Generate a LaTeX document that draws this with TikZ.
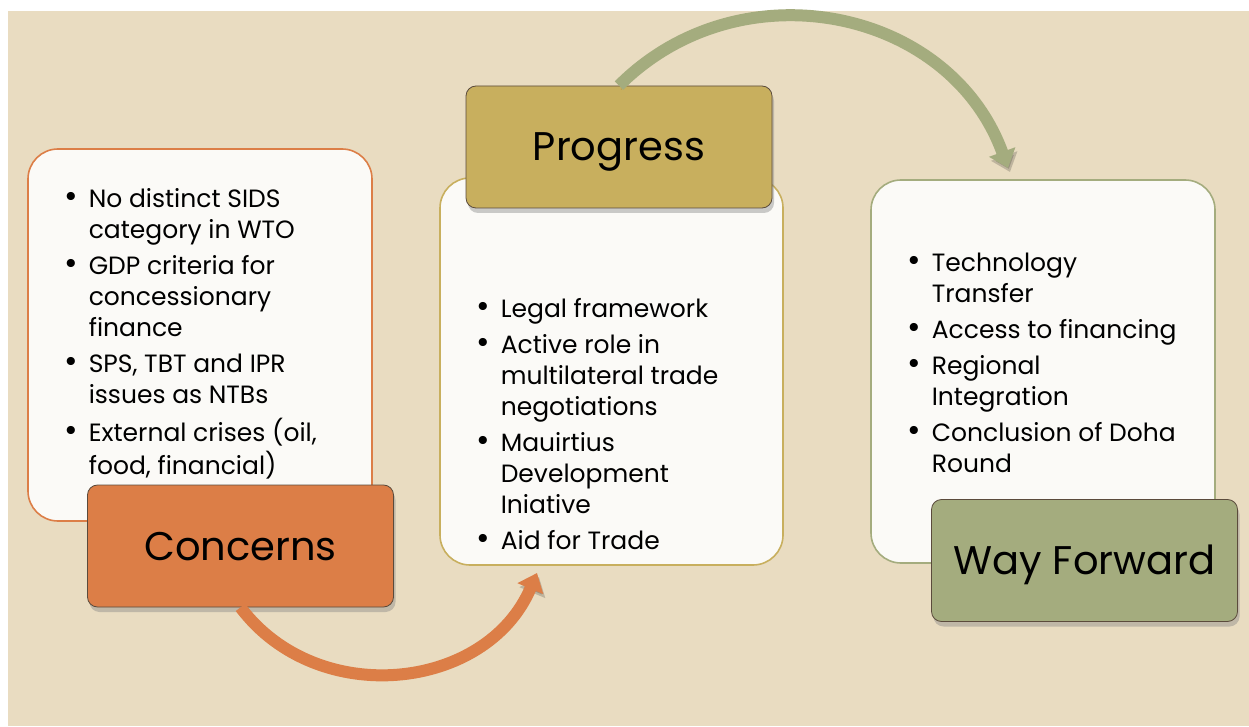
\documentclass[tikz,border=0pt]{standalone}
\usepackage{fontspec}
\setmainfont{Poppins}
\usepackage{xcolor}
\usetikzlibrary{arrows.meta,shadows}
\definecolor{sand}{HTML}{E9DCC1}
\definecolor{paper}{HTML}{FBFAF7}
\definecolor{corange}{HTML}{DC7E47}
\definecolor{cgold}{HTML}{C8AF5E}
\definecolor{colive}{HTML}{A4AC7E}
\definecolor{rim}{HTML}{5B4B3C}
\newcommand{\bul}{{\fontsize{33}{31}\selectfont\textbullet}}
\tikzset{
  panel/.style={draw=#1, line width=1.6pt, rounded corners=30pt, fill=paper, inner sep=0pt},
  tag/.style={draw=rim, line width=0.8pt, rounded corners=10pt, fill=#1, minimum width=306pt,
              minimum height=122pt, inner sep=0pt, text height=28pt, text depth=0pt,
              font=\fontsize{40}{44}\selectfont,
              drop shadow={shadow xshift=2pt, shadow yshift=-5pt, opacity=.4}},
  bullets/.style={anchor=base west, inner sep=0pt, font=\fontsize{25}{31}\selectfont},
  bend/.style={line width=12pt, draw=#1, -{Triangle[length=17pt, width=27pt]}, looseness=1.1,
               preaction={draw=black, opacity=.18, transform canvas={xshift=2pt, yshift=-4pt}}}
}

\begin{document}
\begin{tikzpicture}[x=1pt, y=1pt]
  \useasboundingbox (0,0) rectangle (1249,726);
  \fill[sand] (8,0) rectangle (1249,715);

  % text panels
  \node[panel=corange, minimum width=344pt, minimum height=372pt] (panC) at (200,391) {};
  \node[panel=cgold,   minimum width=343pt, minimum height=387pt] (panP) at (611.5,354.5) {};
  \node[panel=colive,  minimum width=344pt, minimum height=383pt] (panW) at (1043,354.5) {};

  \node[bullets] (listC) at (64,518) {\begin{tabular}[t]{@{}l@{\hspace{11pt}}l@{}}
    \bul & No distinct SIDS\\ & category in WTO\\[5pt]
    \bul & GDP criteria for\\ & concessionary\\ & finance\\[5pt]
    \bul & SPS, TBT and IPR\\ & issues as NTBs\\[5pt]
    \bul & External crises (oil,\\ & food, financial)
  \end{tabular}};
  \node[bullets] (listP) at (476,408) {\begin{tabular}[t]{@{}l@{\hspace{11pt}}l@{}}
    \bul & Legal framework\\[5pt]
    \bul & Active role in\\ & multilateral trade\\ & negotiations\\[5pt]
    \bul & Mauirtius\\ & Development\\ & Iniative\\[5pt]
    \bul & Aid for Trade
  \end{tabular}};
  \node[bullets] (listW) at (907,454) {\begin{tabular}[t]{@{}l@{\hspace{11pt}}l@{}}
    \bul & Technology\\ & Transfer\\[5pt]
    \bul & Access to financing\\[5pt]
    \bul & Regional\\ & Integration\\[5pt]
    \bul & Conclusion of Doha\\ & Round
  \end{tabular}};

  % stage tags
  \node[tag=corange] (tagC) at (240.5,180)  {Concerns};
  \node[tag=cgold]   (tagP) at (619,579)    {Progress};
  \node[tag=colive]  (tagW) at (1084.5,165.5) {Way Forward};

  % curved arrows
  \coordinate (inP) at (537,153);
  \coordinate (inW) at (1008,558);
  \draw[bend=corange] (tagC.south) to[out=-53, in=-113] (inP);
  \draw[bend=colive]  (tagP.north) to[out=45, in=110] (inW);
\end{tikzpicture}
\end{document}
